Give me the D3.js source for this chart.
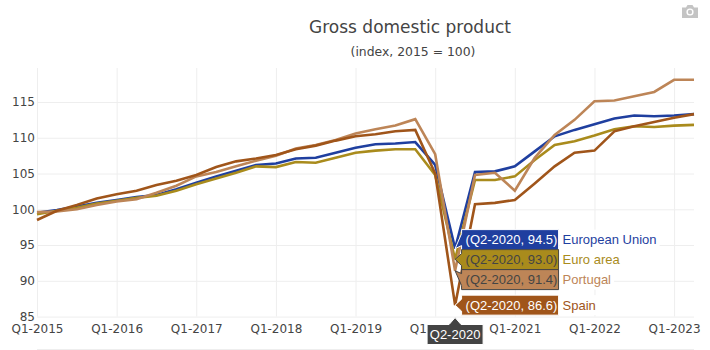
<!DOCTYPE html>
<html><head><meta charset="utf-8">
<script src="https://cdn.jsdelivr.net/npm/d3@7"></script>
<style>html,body{margin:0;padding:0;background:#fff}svg{display:block}</style>
</head><body><div id="c"></div>
<script>
const years = d3.range(2015, 2024);
const quarters = years.flatMap(y => [1,2,3,4].map(q => `Q${q}-${y}`)).slice(0, 34);
const xTickLabels = years.map(y => `Q1-${y}`);
const yTickValues = [85, 90, 95, 100, 105, 110, 115];
const seriesNames = ["European Union", "Euro area", "Portugal", "Spain"];
const seriesColors = ["#1f3f9f", "#a98b1c", "#bd8557", "#a0551a"];
const hoverTextColors = ["#ffffff", "#444444", "#444444", "#ffffff"];
const hoverStrokeColors = ["#ffffff", "#444444", "#444444", "#ffffff"];
const hoverQuarter = "Q2-2020";

const europeanUnion = [99.5,99.9,100.4,100.9,101.3,101.7,102.0,102.8,103.7,104.6,105.4,106.2,106.4,107.1,107.2,107.9,108.6,109.1,109.2,109.4,106.2,94.5,105.2,105.3,106.0,108.1,110.2,111.1,111.9,112.7,113.1,113.0,113.1,113.3];
const euroArea = [99.3,99.8,100.2,100.8,101.2,101.6,101.9,102.6,103.5,104.3,105.1,106.0,105.9,106.6,106.5,107.2,107.9,108.2,108.4,108.4,104.8,93.0,104.1,104.1,104.6,106.9,109.0,109.5,110.3,111.2,111.6,111.5,111.7,111.8];
const portugal = [99.6,99.7,100.0,100.6,101.1,101.4,102.3,103.3,104.6,105.2,106.0,106.8,107.5,108.5,109.0,109.7,110.6,111.2,111.7,112.6,107.7,91.4,104.8,105.1,102.6,107.2,110.4,112.5,115.1,115.2,115.8,116.4,118.1,118.1];
const spain = [98.5,99.8,100.6,101.5,102.1,102.6,103.4,104.0,104.8,105.9,106.7,107.1,107.6,108.4,108.9,109.6,110.2,110.5,110.9,111.1,105.0,86.6,100.7,100.9,101.3,103.6,106.0,107.9,108.2,110.9,111.6,112.2,112.8,113.3];
const seriesValues = [europeanUnion, euroArea, portugal, spain];

const W = 710, H = 350, plotLeft = 37, plotRight = 694, plotTop = 68, plotBottom = 316.6;
const font = "'DejaVu Sans', Verdana, sans-serif", hoverFont = "'Liberation Sans', Arial, sans-serif";
const x = d3.scalePoint().domain(quarters).range([plotLeft, plotRight]);
const y = d3.scaleLinear().domain([85, 119.75]).range([plotBottom, plotTop]);

const svg = d3.select("#c").append("svg").attr("width", W).attr("height", H);

// Grid and tick labels
const xAxis = d3.axisBottom(x).tickValues(xTickLabels).tickSize(-(plotBottom - plotTop)).tickPadding(8);
const gx = svg.append("g").attr("transform", `translate(0,${plotBottom})`).call(xAxis);
gx.select(".domain").remove();
gx.selectAll("line").attr("stroke", "#eeeeee");
gx.selectAll("text").attr("font-family", font).attr("font-size", 12).attr("fill", "#444");

const yAxis = d3.axisLeft(y).tickValues(yTickValues).tickSize(-(plotRight - plotLeft)).tickPadding(2);
const gy = svg.append("g").attr("transform", `translate(${plotLeft},0)`).call(yAxis);
gy.select(".domain").remove();
gy.selectAll("line").attr("stroke", "#eeeeee");
gy.selectAll("text").attr("font-family", font).attr("font-size", 12).attr("fill", "#444");

// Lower frame line
svg.append("line").attr("x1", plotLeft).attr("x2", plotRight).attr("y1", 349.5).attr("y2", 349.5).attr("stroke", "#eeeeee");

// Title
svg.append("text").attr("x", 410).attr("y", 33).attr("text-anchor", "middle")
  .attr("font-family", font).attr("font-size", 17).attr("fill", "#444").text("Gross domestic product");
svg.append("text").attr("x", 413).attr("y", 56).attr("text-anchor", "middle")
  .attr("font-family", font).attr("font-size", 12.4).attr("fill", "#444").text("(index, 2015 = 100)");

// Lines
const line = d3.line().x((d, i) => x(quarters[i])).y(d => y(d));
seriesValues.forEach((vals, i) => {
  svg.append("path").attr("d", line(vals)).attr("fill", "none")
    .attr("stroke", seriesColors[i]).attr("stroke-width", 2.6).attr("stroke-linejoin", "miter");
});

// Hover labels: overlapping boxes are stacked around their mean position
const hi = quarters.indexOf(hoverQuarter), tipX = x(hoverQuarter);
const boxH = 20, boxL = tipX + 6.5, boxW = 97, arrow = 6;
const items = seriesValues.map((v, i) => ({ i, val: v[hi], tip: y(v[hi]) }));
const groups = [];
items.forEach(it => {
  const g = groups[groups.length - 1];
  if (g && it.tip - g[g.length - 1].tip < boxH) g.push(it); else groups.push([it]);
});
groups.forEach(g => {
  const mean = d3.mean(g, d => d.tip);
  g.forEach((d, k) => d.cy = mean + (k - (g.length - 1) / 2) * boxH);
});
const hg = svg.append("g");
items.forEach(d => {
  const t = d.cy - boxH / 2, b = d.cy + boxH / 2;
  const g = hg.append("g");
  g.append("path")
    .attr("d", `M${tipX},${d.tip}L${boxL},${d.cy + arrow}V${b}H${boxL + boxW}V${t}H${boxL}V${d.cy - arrow}Z`)
    .attr("fill", seriesColors[d.i]).attr("stroke", hoverStrokeColors[d.i]).attr("stroke-width", 1);
  g.append("text").attr("x", boxL + 4).attr("y", d.cy + 4.5)
    .attr("font-family", hoverFont).attr("font-size", 13).attr("fill", hoverTextColors[d.i])
    .text(`(${hoverQuarter}, ${d.val.toFixed(1)})`);
  const name = g.append("text").attr("x", boxL + boxW + 4).attr("y", d.cy + 4.5)
    .attr("font-family", hoverFont).attr("font-size", 13).attr("fill", seriesColors[d.i])
    .text(seriesNames[d.i]);
  const bb = name.node().getBBox();
  g.insert("rect", ":scope > text:last-child").attr("x", boxL + boxW + 1).attr("y", t)
    .attr("width", bb.width + 6).attr("height", boxH).attr("fill", "#fff");
});

// Axis hover label
const ax = svg.append("g");
const axTop = 324.5, axTipY = plotBottom + 1, axW = 56, axH = 20;
ax.append("path")
  .attr("d", `M${tipX},${axTipY}L${tipX + arrow},${axTop}H${tipX + axW / 2}V${axTop + axH}H${tipX - axW / 2}V${axTop}H${tipX - arrow}Z`)
  .attr("fill", "#444").attr("stroke", "#fff");
ax.append("text").attr("x", tipX).attr("y", axTop + 14.5).attr("text-anchor", "middle")
  .attr("font-family", hoverFont).attr("font-size", 13).attr("fill", "#fff").text(hoverQuarter);

// Camera icon
const cam = svg.append("g").attr("fill", "#c4c4c4");
cam.append("path").attr("d", "M682,7.5h4l1.5,-2.5h5l1.5,2.5h4v10.5h-16Z");
cam.append("circle").attr("cx", 690).attr("cy", 12).attr("r", 3.6).attr("fill", "#fff");
cam.append("circle").attr("cx", 690).attr("cy", 12).attr("r", 2.2);
</script></body></html>
